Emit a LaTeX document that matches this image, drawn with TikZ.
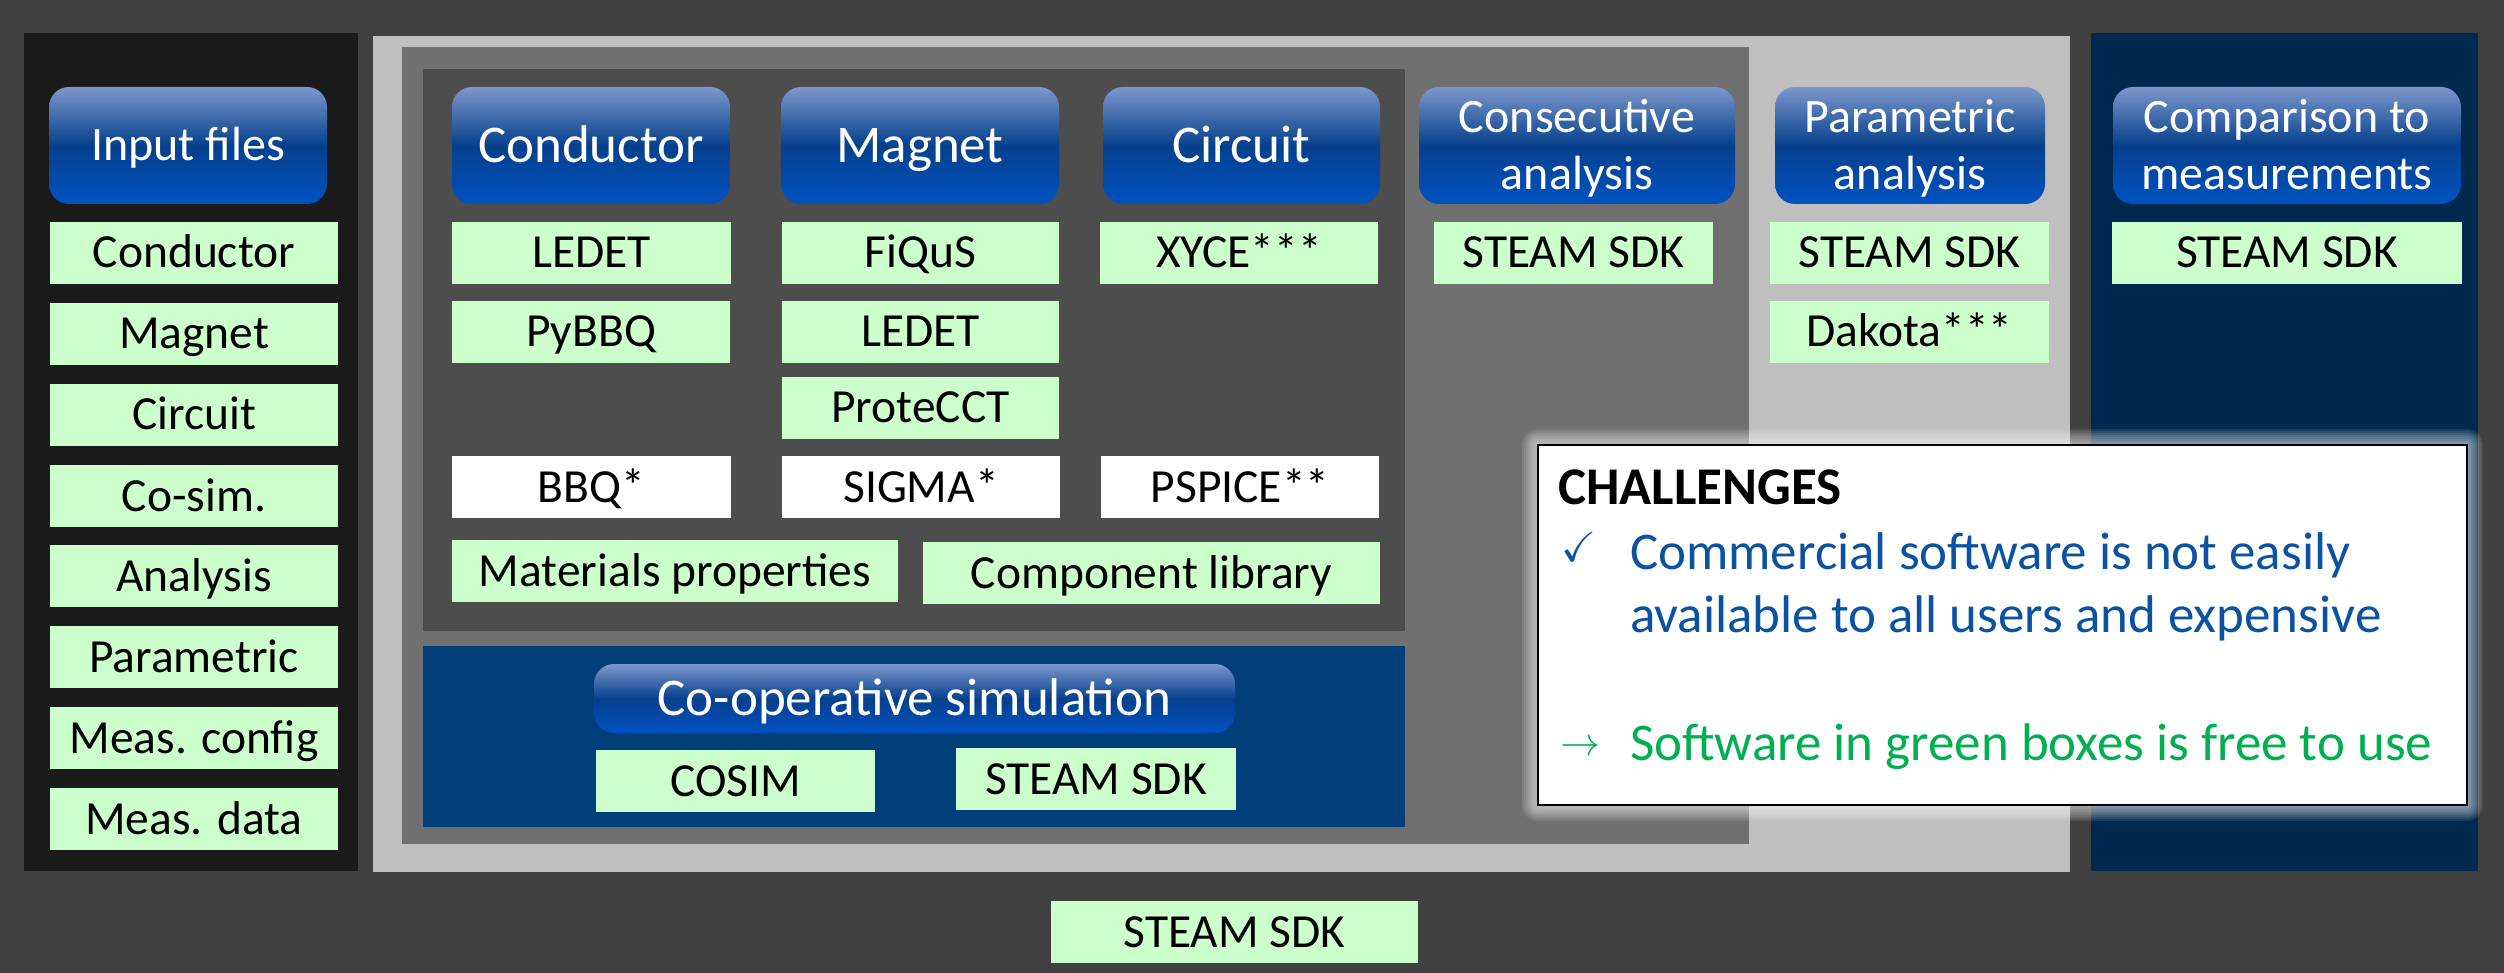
\documentclass[tikz,border=0pt]{standalone}
\usepackage{amssymb}
\usepackage{graphicx}
\usepackage{fontspec}
\setmainfont{Carlito}
\definecolor{bgc}{HTML}{404040}
\definecolor{blackp}{HTML}{1A1A1A}
\definecolor{lightp}{HTML}{BFBFBF}
\definecolor{midp}{HTML}{707070}
\definecolor{darkp}{HTML}{4D4D4D}
\definecolor{coopp}{HTML}{003F7A}
\definecolor{navyp}{HTML}{00294F}
\definecolor{boxgreen}{HTML}{CCFFCC}
\definecolor{hdtop}{HTML}{7D97CC}
\definecolor{hdmid}{HTML}{06408C}
\definecolor{hdbot}{HTML}{0052C2}
\definecolor{chblue}{HTML}{0B52A2}
\definecolor{chgreen}{HTML}{00B050}
\newcommand\drawbox[7]{\node[#6, minimum width={(#4-#2)*1pt}, minimum height={(#5-#3)*1pt}] (#1) at ({(#2+#4)/2},{(#3+#5)/2}) {#7};}
\tikzset{
  panel/.style={inner sep=0pt, outer sep=0pt},
  gbox/.style={fill=boxgreen, inner sep=0pt, outer sep=0pt, text=black, font=\fontsize{47.5}{57}\selectfont, text height=30pt, text depth=0pt},
  wbox/.style={gbox, fill=white},
  hdr/.style={rounded corners=20pt, top color=hdtop, bottom color=hdbot, middle color=hdmid, text=white, inner sep=0pt, outer sep=0pt},
  hbig/.style={hdr, font=\fontsize{53}{63}\selectfont, text height=33.5pt, text depth=0pt},
  hsmall/.style={hdr, font=\fontsize{48}{57}\selectfont, text height=30.3pt, text depth=0pt},
  htwo/.style={hdr, font=\fontsize{48}{57}\selectfont, align=center, text height=87.3pt, text depth=0pt},
  chtext/.style={anchor=base west, inner sep=0pt, outer sep=0pt, font=\fontsize{53}{63}\selectfont},
}
\begin{document}
\begin{tikzpicture}[x=1pt, y=-1pt]
% background and panels
\drawbox{bg}{0}{0}{2504}{973}{panel, fill=bgc}{}
\drawbox{leftpanel}{24}{33}{358}{871}{panel, fill=blackp}{}
\drawbox{lightpanel}{373}{36}{2070}{872}{panel, fill=lightp}{}
\drawbox{midpanel}{402}{47}{1749}{844}{panel, fill=midp}{}
\drawbox{darkpanel}{423}{69}{1405}{631}{panel, fill=darkp}{}
\drawbox{cooppanel}{423}{646}{1405}{827}{panel, fill=coopp}{}
\drawbox{navypanel}{2091}{33}{2478}{871}{panel, fill=navyp}{}
% headers
\drawbox{hInput}{49}{87}{327}{204}{hsmall}{Input files}
\drawbox{hCond}{452}{87}{730}{204}{hbig}{Conductor}
\drawbox{hMag}{781}{87}{1059}{204}{hbig}{Magnet}
\drawbox{hCirc}{1103}{87}{1380}{204}{hbig}{Circuit}
\drawbox{hConsec}{1419}{87}{1735}{204}{htwo}{Consecutive\\analysis}
\drawbox{hParam}{1775}{87}{2045}{204}{htwo}{Parametric\\analysis}
\drawbox{hComp}{2113}{87}{2461}{204}{htwo}{Comparison to\\measurements}
\drawbox{hCoop}{594}{664}{1235}{733}{hbig}{Co-operative simulation}
% input files column
\drawbox{in1}{50}{222}{338}{284}{gbox}{Conductor}
\drawbox{in2}{50}{303}{338}{365}{gbox}{Magnet}
\drawbox{in3}{50}{384}{338}{446}{gbox}{Circuit}
\drawbox{in4}{50}{465}{338}{527}{gbox}{Co-sim.}
\drawbox{in5}{50}{545}{338}{607}{gbox}{Analysis}
\drawbox{in6}{50}{626}{338}{688}{gbox}{Parametric}
\drawbox{in7}{50}{707}{338}{769}{gbox}{Meas. config}
\drawbox{in8}{50}{788}{338}{850}{gbox}{Meas. data}
% conductor column
\drawbox{condLEDET}{452}{222}{731}{284}{gbox}{LEDET}
\drawbox{pybbq}{452}{301}{730}{363}{gbox}{PyBBQ}
\drawbox{bbq}{452}{456}{731}{518}{wbox}{BBQ*}
% magnet column
\drawbox{fiqus}{782}{222}{1059}{284}{gbox}{FiQuS}
\drawbox{magLEDET}{782}{301}{1059}{363}{gbox}{LEDET}
\drawbox{protecct}{782}{377}{1059}{439}{gbox}{ProteCCT}
\drawbox{sigma}{782}{456}{1060}{518}{wbox}{SIGMA*}
% circuit column
\drawbox{xyce}{1100}{222}{1378}{284}{gbox}{XYCE***}
\drawbox{pspice}{1101}{456}{1379}{518}{wbox}{PSPICE**}
% libraries
\drawbox{matprop}{452}{540}{898}{602}{gbox}{Materials properties}
\drawbox{complib}{923}{542}{1380}{604}{gbox}{Component library}
% co-operative simulation
\drawbox{cosim}{596}{750}{875}{812}{gbox}{COSIM}
\drawbox{coopsdk}{956}{748}{1236}{810}{gbox}{STEAM SDK}
% analysis columns
\drawbox{consecsdk}{1434}{222}{1713}{284}{gbox}{STEAM SDK}
\drawbox{paramsdk}{1770}{222}{2049}{284}{gbox}{STEAM SDK}
\drawbox{dakota}{1770}{301}{2049}{363}{gbox}{Dakota***}
\drawbox{compsdk}{2112}{222}{2462}{284}{gbox}{STEAM SDK}
% bottom
\drawbox{mainsdk}{1051}{901}{1418}{963}{gbox}{STEAM SDK}
% challenges box with glow
\foreach \g in {2,4,...,16}
  \fill[white, opacity=0.09, rounded corners=\g pt] (1538-\g,445-\g) rectangle (2467+\g,805+\g);
\drawbox{chbox}{1538}{445}{2467}{805}{panel, fill=white, draw=black, line width=2.5pt}{}
\node[chtext, font=\fontsize{53}{63}\selectfont\bfseries] (chtitle) at (1558,504) {CHALLENGES};
\node[chtext, text=chblue, font=\fontsize{10}{12}\selectfont] (chk) at (1561,561) {\scalebox{4.2}{$\checkmark$}};
\node[chtext, text=chblue] (ch1a) at (1630,569) {Commercial software is not easily};
\node[chtext, text=chblue] (ch1b) at (1630,632) {available to all users and expensive};
\node[chtext, text=chgreen, font=\fontsize{10}{12}\selectfont] (arr) at (1560,755) {\scalebox{4}{$\rightarrow$}};
\node[chtext, text=chgreen] (ch3) at (1630,760) {Software in green boxes is free to use};
\end{tikzpicture}
\end{document}
